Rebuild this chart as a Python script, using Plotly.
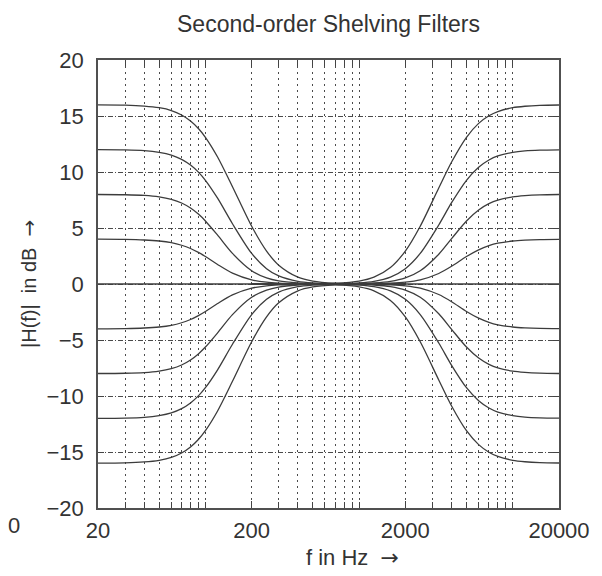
import plotly.graph_objects as go

# Low-shelving filters (fc ~ 100 Hz) (dB)
freq_lo = [20, 30, 40, 50, 60, 70, 80, 90, 100, 120, 150, 200, 250, 300, 400, 500, 700, 1000, 1500, 2000]
lo_p16 = [15.99, 15.97, 15.89, 15.74, 15.49, 15.09, 14.55, 13.88, 13.10, 11.34, 8.69, 5.16, 2.94, 1.68, 0.61, 0.26, 0.07, 0.017, 0.003, 0]
lo_p12 = [11.99, 11.97, 11.90, 11.75, 11.51, 11.13, 10.62, 9.99, 9.26, 7.66, 5.38, 2.73, 1.37, 0.72, 0.24, 0.10, 0.027, 0.006, 0.001, 0]
lo_p8 = [7.99, 7.97, 7.91, 7.78, 7.56, 7.23, 6.78, 6.24, 5.63, 4.36, 2.73, 1.18, 0.54, 0.27, 0.089, 0.037, 0.009, 0.002, 0, 0]
lo_p4 = [4.00, 3.98, 3.93, 3.84, 3.69, 3.46, 3.17, 2.82, 2.45, 1.74, 0.97, 0.37, 0.16, 0.08, 0.026, 0.010, 0.003, 0.001, 0, 0]
lo_m4 = [-4.00, -3.98, -3.93, -3.84, -3.69, -3.46, -3.17, -2.82, -2.45, -1.74, -0.97, -0.37, -0.16, -0.08, -0.026, -0.010, -0.003, -0.001, 0, 0]
lo_m8 = [-7.99, -7.97, -7.91, -7.78, -7.56, -7.23, -6.78, -6.24, -5.63, -4.36, -2.73, -1.18, -0.54, -0.27, -0.089, -0.037, -0.009, -0.002, 0, 0]
lo_m12 = [-11.99, -11.97, -11.90, -11.75, -11.51, -11.13, -10.62, -9.99, -9.26, -7.66, -5.38, -2.73, -1.37, -0.72, -0.24, -0.10, -0.027, -0.006, -0.001, 0]
lo_m16 = [-15.99, -15.97, -15.89, -15.74, -15.49, -15.09, -14.55, -13.88, -13.10, -11.34, -8.69, -5.16, -2.94, -1.68, -0.61, -0.26, -0.07, -0.017, -0.003, 0]

# High-shelving filters (fc ~ 5000 Hz)
freq_hi = [200, 300, 500, 700, 1000, 1250, 1600, 2000, 2500, 3300, 4000, 5000, 6000, 7000, 8000, 10000, 12000, 15000, 20000]
hi_p16 = [0, 0.002, 0.017, 0.064, 0.26, 0.61, 1.47, 2.94, 5.16, 8.57, 10.89, 13.10, 14.34, 15.02, 15.40, 15.74, 15.87, 15.95, 15.98]
hi_p12 = [0, 0, 0.006, 0.025, 0.10, 0.24, 0.62, 1.37, 2.73, 5.27, 7.26, 9.26, 10.42, 11.07, 11.43, 11.75, 11.88, 11.95, 11.98]
hi_p8 = [0, 0, 0.002, 0.008, 0.037, 0.089, 0.23, 0.54, 1.18, 2.66, 4.05, 5.63, 6.61, 7.17, 7.49, 7.78, 7.89, 7.96, 7.99]
hi_p4 = [0, 0, 0, 0.002, 0.010, 0.026, 0.068, 0.16, 0.37, 0.94, 1.58, 2.45, 3.05, 3.42, 3.64, 3.84, 3.92, 3.97, 3.99]
hi_m4 = [0, 0, 0, -0.002, -0.010, -0.026, -0.068, -0.16, -0.37, -0.94, -1.58, -2.45, -3.05, -3.42, -3.64, -3.84, -3.92, -3.97, -3.99]
hi_m8 = [0, 0, -0.002, -0.008, -0.037, -0.089, -0.23, -0.54, -1.18, -2.66, -4.05, -5.63, -6.61, -7.17, -7.49, -7.78, -7.89, -7.96, -7.99]
hi_m12 = [0, 0, -0.006, -0.025, -0.10, -0.24, -0.62, -1.37, -2.73, -5.27, -7.26, -9.26, -10.42, -11.07, -11.43, -11.75, -11.88, -11.95, -11.98]
hi_m16 = [0, -0.002, -0.017, -0.064, -0.26, -0.61, -1.47, -2.94, -5.16, -8.57, -10.89, -13.10, -14.34, -15.02, -15.40, -15.74, -15.87, -15.95, -15.98]

# Flat 0 dB reference
freq_flat = [20, 20000]
flat_0 = [0, 0]

x_ticks = [20, 200, 2000, 20000]
x_minor = [30, 40, 50, 60, 70, 80, 90, 100,
           300, 400, 500, 600, 700, 800, 900, 1000,
           3000, 4000, 5000, 6000, 7000, 8000, 9000, 10000]
y_ticks = [-20, -15, -10, -5, 0, 5, 10, 15, 20]

FONT = "Liberation Sans, Arial, sans-serif"
CURVE = "#3c3c3c"
GRID = "#4a4a4a"
LINE = dict(color=CURVE, width=1.3, shape="spline", smoothing=0.8)
ARROW = "<span style='font-family:DejaVu Sans'>\u2192</span>"

fig = go.Figure()
fig.add_trace(go.Scatter(x=freq_flat, y=flat_0, mode="lines",
                         line=dict(color=CURVE, width=1.3), showlegend=False, hoverinfo="skip"))
for ys in [lo_p16, lo_p12, lo_p8, lo_p4, lo_m4, lo_m8, lo_m12, lo_m16]:
    fig.add_trace(go.Scatter(x=freq_lo, y=ys, mode="lines", line=LINE, showlegend=False))
for ys in [hi_p16, hi_p12, hi_p8, hi_p4, hi_m4, hi_m8, hi_m12, hi_m16]:
    fig.add_trace(go.Scatter(x=freq_hi, y=ys, mode="lines", line=LINE, showlegend=False))

# The page body adds an 8px offset, so the figure is 8px smaller than the window.
fig.update_layout(
    width=594, height=568,
    margin=dict(l=90, r=39, t=52, b=68),
    paper_bgcolor="white", plot_bgcolor="white",
    font=dict(family=FONT, size=22, color="#333333"),
    showlegend=False,
    xaxis=dict(
        type="log", range=[1.30103, 4.30103],
        tickmode="array", tickvals=x_ticks, ticktext=[str(v) for v in x_ticks],
        ticks="inside", ticklen=7, tickcolor="#444", tickwidth=1.2,
        showline=True, linecolor="#505050", linewidth=1.5, mirror="allticks",
        showgrid=True, gridcolor=GRID, griddash="2px,4px", gridwidth=1,
        zeroline=False,
        tickfont=dict(size=22),
        ticklabelstandoff=2,
        minor=dict(tickmode="array", tickvals=x_minor, ticks="inside", ticklen=6,
                   tickcolor="#444", tickwidth=1.2, showgrid=True, gridcolor=GRID,
                   griddash="2px,4px", gridwidth=1),
    ),
    yaxis=dict(
        range=[-20, 20], tickmode="array", tickvals=y_ticks,
        ticks="inside", ticklen=6, tickcolor="#444",
        showline=True, linecolor="#505050", linewidth=1.5, mirror="allticks",
        showgrid=True, gridcolor=GRID, griddash="5px,2px,1px,2px", gridwidth=1,
        zeroline=False,
        tickfont=dict(size=22),
        ticklabelstandoff=8,
    ),
    annotations=[
        dict(text="Second-order Shelving Filters", xref="paper", yref="paper",
             x=0.5, y=1.0, yshift=36, showarrow=False, font=dict(size=23),
             xanchor="center", yanchor="middle"),
        dict(text="f in Hz  " + ARROW, xref="paper", yref="paper",
             x=0.553, y=0, yshift=-49, showarrow=False, font=dict(size=22),
             xanchor="center", yanchor="middle"),
        dict(text="|H(f)|  in dB  " + ARROW, xref="paper", yref="paper",
             x=0, xshift=-69, y=0.50, textangle=-90, showarrow=False, font=dict(size=20),
             xanchor="center", yanchor="middle"),
        dict(text="0", xref="paper", yref="paper",
             x=0, xshift=-92, y=0, yshift=-17, showarrow=False, font=dict(size=22),
             xanchor="left", yanchor="middle"),
    ],
)

fig.write_html("out.html")
